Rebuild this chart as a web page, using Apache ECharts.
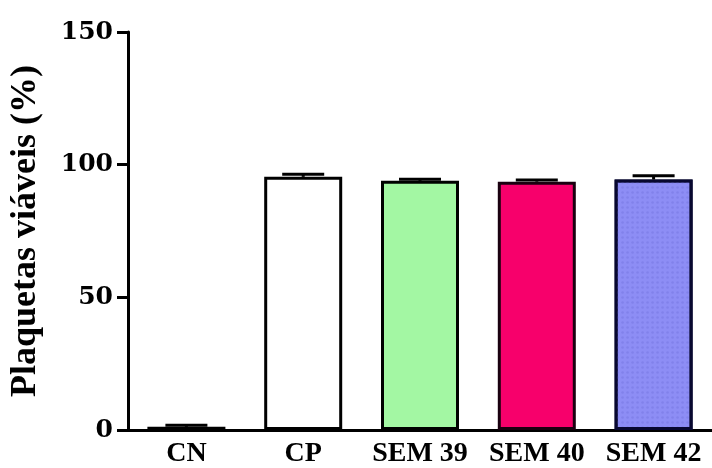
<!DOCTYPE html>
<html>
<head>
<meta charset="utf-8">
<script src="https://cdn.jsdelivr.net/npm/echarts@6/dist/echarts.min.js"></script>
<style>
  html, body { margin: 0; padding: 0; background: #fff; }
  #chart { width: 712px; height: 468px; }
</style>
</head>
<body>
<div id="chart"></div>
<script>
// Viable platelets (%) per group, mean and SEM
const categories = ['CN', 'CP', 'SEM 39', 'SEM 40', 'SEM 42'];
const means = [1.2, 95.4, 93.9, 93.6, 94.4];
const sems = [0.6, 1.0, 0.6, 0.6, 1.4];
const barColors = ['#ffffff', '#ffffff', '#a3f7a3', '#f7006b', '#8d8df5'];
const borderColors = ['#000000', '#000000', '#000000', '#1a0010', '#080830'];
const yTicks = [0, 50, 100, 150];

const serif = '"Liberation Serif", "Times New Roman", serif';
const wideSerif = '"DejaVu Serif", "Liberation Serif", serif';

const chart = echarts.init(document.getElementById('chart'), null, { renderer: 'canvas' });

const barData = means.map((v, i) => ({
  value: v,
  itemStyle: {
    color: barColors[i],
    borderColor: borderColors[i],
    borderWidth: 3,
    decal: i === 4 ? {
      symbol: 'circle',
      symbolSize: 0.5,
      color: 'rgba(120,120,225,0.55)',
      dashArrayX: [5, 0],
      dashArrayY: [5, 0]
    } : null
  }
}));

// Upper error bars: a short stem plus a cap above each bar
const errData = means.map((v, i) => [i, v, v + sems[i]]);

chart.setOption({
  animation: false,
  backgroundColor: '#ffffff',
  grid: { left: 124, top: 32, bottom: 38, width: 593 },
  xAxis: {
    type: 'category',
    data: categories,
    axisLine: { lineStyle: { color: '#000', width: 3 } },
    axisTick: { alignWithLabel: true, length: 8, lineStyle: { color: '#000', width: 3 } },
    axisLabel: {
      interval: 0,
      hideOverlap: false,
      color: '#000', fontFamily: serif, fontWeight: 'bold', fontSize: 28, margin: 10
    }
  },
  yAxis: {
    type: 'value',
    min: 0, max: 150, interval: 50,
    name: 'Plaquetas viáveis (%)',
    nameLocation: 'middle',
    nameGap: 84,
    nameTextStyle: { color: '#000', fontFamily: serif, fontWeight: 'bold', fontSize: 36 },
    axisLine: { show: true, lineStyle: { color: '#000', width: 3 } },
    axisTick: { show: true, length: 11, lineStyle: { color: '#000', width: 3 } },
    splitLine: { show: false },
    axisLabel: {
      color: '#000', fontFamily: wideSerif, fontWeight: 'bold', fontSize: 25, margin: 15,
      customValues: yTicks
    }
  },
  series: [
    {
      type: 'bar',
      data: barData,
      barWidth: 78,
      z: 2
    },
    {
      type: 'custom',
      z: 3,
      data: errData,
      renderItem: function (params, api) {
        const x = api.value(0);
        const base = api.coord([x, api.value(1)]);
        const top = api.coord([x, api.value(2)]);
        const half = 21;
        const style = { stroke: '#000', lineWidth: 3 };
        return {
          type: 'group',
          children: [
            { type: 'line', shape: { x1: base[0], y1: base[1], x2: top[0], y2: top[1] }, style: style },
            { type: 'line', shape: { x1: top[0] - half, y1: top[1], x2: top[0] + half, y2: top[1] }, style: style }
          ]
        };
      }
    }
  ]
});
</script>
</body>
</html>
